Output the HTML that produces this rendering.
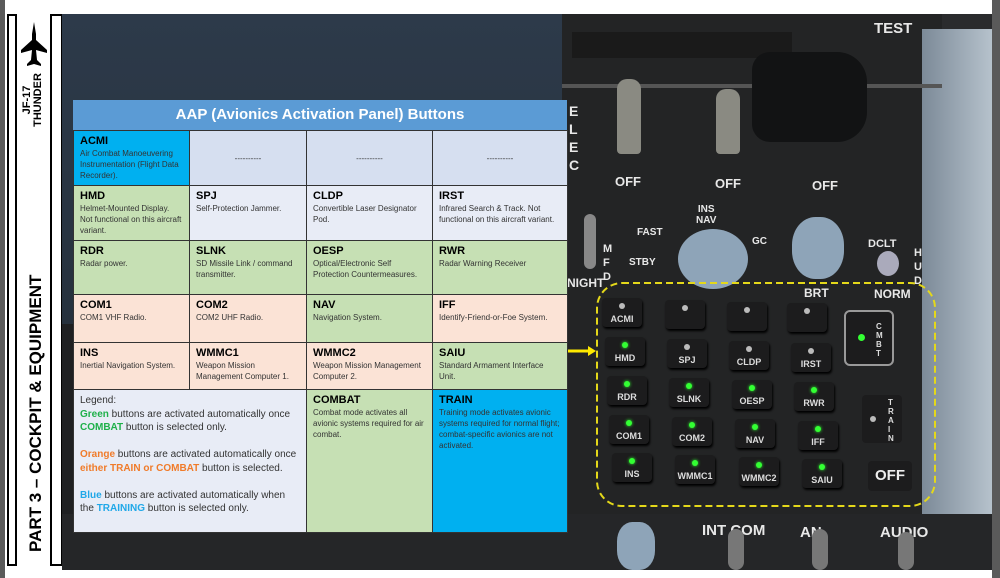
<!DOCTYPE html>
<html><head><meta charset="utf-8"><style>
*{margin:0;padding:0;box-sizing:border-box}
body{width:1000px;height:578px;background:#fff;position:relative;overflow:hidden;font-family:"Liberation Sans",sans-serif}
.abs{position:absolute}
.box{position:absolute;border:2px solid #000;background:#fff}
.photo{left:62px;top:14px;width:930px;height:556px;background:#2a2b2d;overflow:hidden}
table{border-collapse:collapse;position:absolute;left:73px;top:100px;width:494px;table-layout:fixed}
td{border:1px solid #333;vertical-align:top;padding:4px 6px;font-size:8px;color:#333;line-height:11px}
td b{font-size:11px;color:#000;display:block;line-height:13px}
.g{background:#c6e0b4}.o{background:#fbe3d6}.l{background:#e8ecf6}.b{background:#00b0f0}.h{background:#d6dff0}
.btn{position:absolute;width:40px;height:29px;background:#1c1c1d;border-radius:4px;box-shadow:1px 2px 2px #000;color:#ddd;font-size:9px;font-weight:bold;text-align:center;padding-top:16px}
.btn i{position:absolute;left:17px;top:5px;width:6px;height:6px;border-radius:50%;background:#bbb}
.btn i.on{background:#3f3;box-shadow:0 0 3px #3f3}
.lbl{position:absolute;color:#e8e8e8;font-weight:bold;font-size:13px}
</style></head><body>
<div class="abs" style="left:0;top:0;width:5px;height:578px;background:#5a5a5a"></div>
<div class="abs" style="left:992px;top:0;width:8px;height:578px;background:#5a5a5a"></div>
<div class="box" style="left:7px;top:14px;width:10px;height:552px"></div>
<div class="box" style="left:50px;top:14px;width:13px;height:552px"></div>
<svg class="abs" style="left:20px;top:20px" width="28" height="50" viewBox="0 0 28 50"><path d="M14 2 L16 14 L16 20 L27 30 L27 33 L16 30 L17 40 L21 44 L21 46 L14 44 L7 46 L7 44 L11 40 L12 30 L1 33 L1 30 L12 20 L12 14 Z" fill="#000"/></svg>
<div class="abs" style="left:34px;top:100px;transform:rotate(-90deg);transform-origin:0 0;font-weight:bold;font-size:11px;line-height:11px;width:60px;text-align:center;top:130px;left:22px">JF-17<br>THUNDER</div>
<div class="abs" style="left:26px;top:552px;transform:rotate(-90deg);transform-origin:0 0;font-weight:bold;font-size:17px;white-space:nowrap;width:310px">PART 3 – COCKPIT &amp; EQUIPMENT</div>

<div class="abs photo">
 <div class="abs" style="left:0;top:0;width:510px;height:310px;background:linear-gradient(180deg,#2d3a4a,#26313d)"></div>
 <div class="abs" style="left:0;top:310px;width:510px;height:246px;background:#1f2022"></div>
 <div class="abs" style="left:500px;top:0;width:380px;height:556px;background:#232425"></div>
 <div class="abs" style="left:860px;top:15px;width:70px;height:541px;background:linear-gradient(90deg,#7c8a98,#b6c2cc)"></div>
 <div class="abs" style="left:510px;top:18px;width:220px;height:26px;background:#1a1a1a"></div>
 <span class="lbl" style="left:812px;top:6px;font-size:15px">TEST</span>
 <div class="abs" style="left:500px;top:70px;width:380px;height:4px;background:#555"></div>
 <span class="lbl" style="left:507px;top:88px;line-height:18px;font-size:14px">E<br>L<br>E<br>C</span>
 <div class="abs" style="left:555px;top:65px;width:24px;height:75px;background:#8a8a82;border-radius:10px 10px 4px 4px"></div>
 <div class="abs" style="left:654px;top:75px;width:24px;height:65px;background:#8a8a82;border-radius:10px 10px 4px 4px"></div>
 <div class="abs" style="left:690px;top:38px;width:115px;height:90px;background:#121314;border-radius:18px 30px 30px 18px"></div>
 <span class="lbl" style="left:553px;top:160px">OFF</span><span class="lbl" style="left:653px;top:162px">OFF</span><span class="lbl" style="left:750px;top:164px">OFF</span>
 <div class="abs" style="left:616px;top:215px;width:70px;height:60px;background:#8ea4b8;border-radius:50%"></div>
 <div class="abs" style="left:730px;top:203px;width:52px;height:62px;background:#8ea4b8;border-radius:45%"></div>
 <div class="abs" style="left:815px;top:237px;width:22px;height:25px;background:#aab;border-radius:50%"></div>
 <div class="abs" style="left:522px;top:200px;width:12px;height:55px;background:#888;border-radius:6px"></div>
 <span class="lbl" style="left:505px;top:262px;font-size:12px">NIGHT</span>
 <span class="lbl" style="left:541px;top:228px;font-size:11px;line-height:14px">M<br>F<br>D</span>
 <span class="lbl" style="left:575px;top:213px;font-size:10px">FAST</span><span class="lbl" style="left:567px;top:243px;font-size:10px">STBY</span>
 <span class="lbl" style="left:634px;top:190px;font-size:10px;line-height:11px;text-align:center">INS<br>NAV</span><span class="lbl" style="left:690px;top:222px;font-size:10px">GC</span>
 <span class="lbl" style="left:742px;top:272px;font-size:12px">BRT</span>
 <span class="lbl" style="left:806px;top:224px;font-size:11px">DCLT</span><span class="lbl" style="left:812px;top:273px;font-size:12px">NORM</span>
 <span class="lbl" style="left:852px;top:232px;font-size:11px;line-height:14px">H<br>U<br>D</span>
 <div class="abs" style="left:0;top:500px;width:930px;height:56px;background:#252628"></div>
 <div class="abs" style="left:555px;top:508px;width:38px;height:48px;background:#8ea4b8;border-radius:40%"></div>
 <span class="lbl" style="left:640px;top:508px;font-size:15px">INT COM</span><span class="lbl" style="left:738px;top:510px;font-size:15px">AN</span><span class="lbl" style="left:818px;top:510px;font-size:15px">AUDIO</span>
 <div class="abs" style="left:666px;top:515px;width:16px;height:41px;background:#777;border-radius:8px"></div>
 <div class="abs" style="left:750px;top:515px;width:16px;height:41px;background:#777;border-radius:8px"></div>
 <div class="abs" style="left:836px;top:518px;width:16px;height:38px;background:#777;border-radius:8px"></div>
</div>

<svg class="abs" style="left:560px;top:280px" width="380" height="230">
 <rect x="37" y="3" width="338" height="223" rx="25" fill="none" stroke="#e4d81a" stroke-width="2" stroke-dasharray="7,4"/>
 <line x1="8" y1="71" x2="28" y2="71" stroke="#ffea00" stroke-width="3"/><path d="M28 66 L36 71 L28 76Z" fill="#ffea00"/>
</svg>
<div class="btn" style="left:602px;top:298px"><i></i>ACMI</div>
<div class="btn" style="left:665px;top:300px"><i></i></div>
<div class="btn" style="left:727px;top:302px"><i></i></div>
<div class="btn" style="left:787px;top:303px"><i></i></div>
<div class="btn" style="left:605px;top:337px"><i class="on"></i>HMD</div>
<div class="btn" style="left:667px;top:339px"><i></i>SPJ</div>
<div class="btn" style="left:729px;top:341px"><i></i>CLDP</div>
<div class="btn" style="left:791px;top:343px"><i></i>IRST</div>
<div class="btn" style="left:607px;top:376px"><i class="on"></i>RDR</div>
<div class="btn" style="left:669px;top:378px"><i class="on"></i>SLNK</div>
<div class="btn" style="left:732px;top:380px"><i class="on"></i>OESP</div>
<div class="btn" style="left:794px;top:382px"><i class="on"></i>RWR</div>
<div class="btn" style="left:609px;top:415px"><i class="on"></i>COM1</div>
<div class="btn" style="left:672px;top:417px"><i class="on"></i>COM2</div>
<div class="btn" style="left:735px;top:419px"><i class="on"></i>NAV</div>
<div class="btn" style="left:798px;top:421px"><i class="on"></i>IFF</div>
<div class="btn" style="left:612px;top:453px"><i class="on"></i>INS</div>
<div class="btn" style="left:675px;top:455px"><i class="on"></i>WMMC1</div>
<div class="btn" style="left:739px;top:457px"><i class="on"></i>WMMC2</div>
<div class="btn" style="left:802px;top:459px"><i class="on"></i>SAIU</div>
<div class="abs" style="left:844px;top:310px;width:50px;height:56px;border:2px solid #999;border-radius:6px;background:#1c1c1d"><i class="abs" style="left:12px;top:22px;width:7px;height:7px;border-radius:50%;background:#3f3"></i><span class="abs" style="left:30px;top:10px;color:#ddd;font-size:8px;font-weight:bold;line-height:9px">C<br>M<br>B<br>T</span></div>
<div class="abs" style="left:862px;top:395px;width:40px;height:48px;border-radius:4px;background:#1c1c1d"><i class="abs" style="left:8px;top:21px;width:6px;height:6px;border-radius:50%;background:#bbb"></i><span class="abs" style="left:26px;top:3px;color:#ddd;font-size:8px;font-weight:bold;line-height:9px">T<br>R<br>A<br>I<br>N</span></div>
<div class="abs" style="left:868px;top:461px;width:44px;height:30px;border-radius:4px;background:#1c1c1d;color:#eee;font-weight:bold;font-size:15px;text-align:center;line-height:30px">OFF</div>

<div class="abs" style="left:73px;top:100px;width:494px;height:30px;background:#5b9bd5;color:#fff;font-weight:bold;font-size:15px;text-align:center;line-height:30px">AAP (Avionics Activation Panel) Buttons</div>
<table style="top:130px">
<colgroup><col style="width:116px"><col style="width:117px"><col style="width:126px"><col style="width:135px"></colgroup>
<tr style="height:54px"><td class="b"><b>ACMI</b>Air Combat Manoeuvering Instrumentation (Flight Data Recorder).</td><td class="h" style="text-align:center;vertical-align:middle">----------</td><td class="h" style="text-align:center;vertical-align:middle">----------</td><td class="h" style="text-align:center;vertical-align:middle">----------</td></tr>
<tr style="height:54px"><td class="g"><b>HMD</b>Helmet-Mounted Display. Not functional on this aircraft variant.</td><td class="l"><b>SPJ</b>Self-Protection Jammer.</td><td class="l"><b>CLDP</b>Convertible Laser Designator Pod.</td><td class="l"><b>IRST</b>Infrared Search &amp; Track. Not functional on this aircraft variant.</td></tr>
<tr style="height:54px"><td class="g"><b>RDR</b>Radar power.</td><td class="g"><b>SLNK</b>SD Missile Link / command transmitter.</td><td class="g"><b>OESP</b>Optical/Electronic Self Protection Countermeasures.</td><td class="g"><b>RWR</b>Radar Warning Receiver</td></tr>
<tr style="height:48px"><td class="o"><b>COM1</b>COM1 VHF Radio.</td><td class="o"><b>COM2</b>COM2 UHF Radio.</td><td class="g"><b>NAV</b>Navigation System.</td><td class="o"><b>IFF</b>Identify-Friend-or-Foe System.</td></tr>
<tr style="height:47px"><td class="o"><b>INS</b>Inertial Navigation System.</td><td class="o"><b>WMMC1</b>Weapon Mission Management Computer 1.</td><td class="o"><b>WMMC2</b>Weapon Mission Management Computer 2.</td><td class="g"><b>SAIU</b>Standard Armament Interface Unit.</td></tr>
<tr style="height:143px"><td class="l" colspan="2" style="font-size:10px;line-height:13.5px;color:#333">Legend:<br><span style="color:#1fb04a;font-weight:bold">Green</span> buttons are activated automatically once <span style="color:#1fb04a;font-weight:bold">COMBAT</span> button is selected only.<br><br><span style="color:#f07b2a;font-weight:bold">Orange</span> buttons are activated automatically once <span style="color:#f07b2a;font-weight:bold">either TRAIN or COMBAT</span> button is selected.<br><br><span style="color:#20a8e8;font-weight:bold">Blue</span> buttons are activated automatically when the <span style="color:#20a8e8;font-weight:bold">TRAINING</span> button is selected only.</td><td class="g"><b>COMBAT</b>Combat mode activates all avionic systems required for air combat.</td><td class="b"><b>TRAIN</b>Training mode activates avionic systems required for normal flight; combat-specific avionics are not activated.</td></tr>
</table>
</body></html>
